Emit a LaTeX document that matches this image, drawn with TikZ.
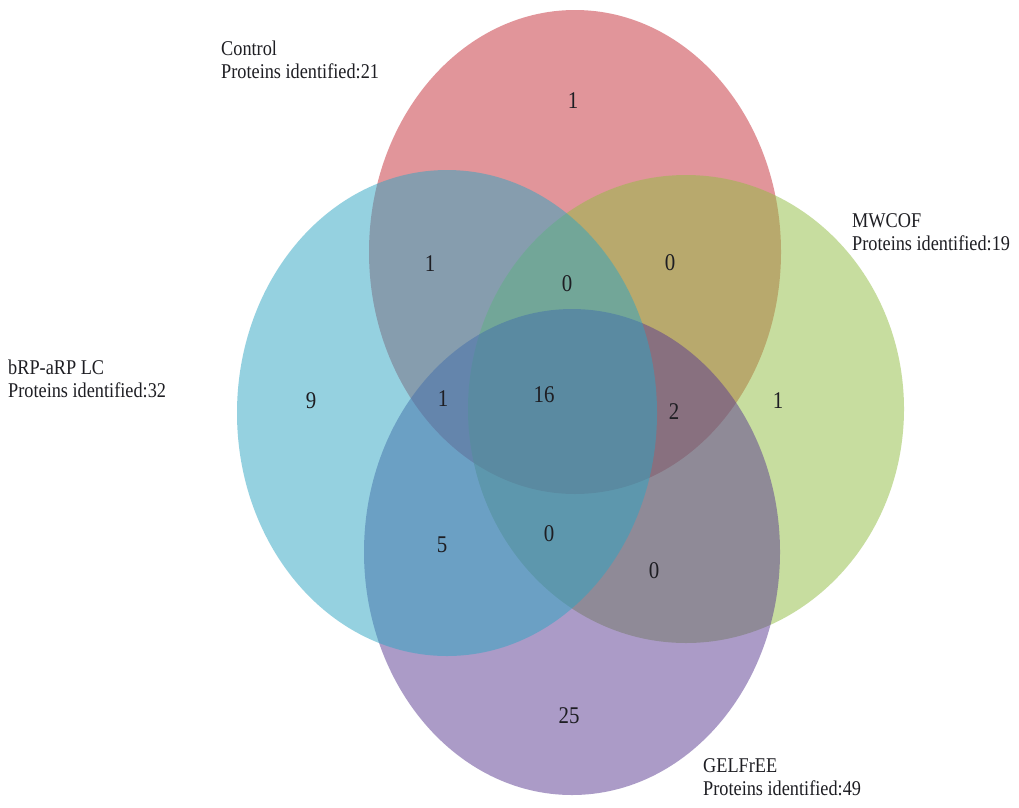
\documentclass[tikz,border=0pt]{standalone}
\usepackage{fontspec}
\setmainfont[FakeStretch=0.87]{Liberation Serif}
\definecolor{cRed}{RGB}{197,45,55}
\definecolor{cGreen}{RGB}{145,189,65}
\definecolor{cPurple}{RGB}{89,57,145}
\definecolor{cBlue}{RGB}{45,165,195}
\definecolor{numcol}{RGB}{30,30,35}
\tikzset{
  setfill/.style={fill=#1, fill opacity=0.5, draw=none},
  num/.style={font=\fontsize{24}{26}\selectfont, text=numcol, inner sep=0pt},
  lab/.style={font=\fontsize{21}{23}\selectfont, text=numcol, align=left, anchor=west, inner sep=0pt}
}
\begin{document}
\begin{tikzpicture}[x=1pt,y=-1pt]
\useasboundingbox (0,0) rectangle (1019,807);
\fill[white] (0,0) rectangle (1019,807);
% sets
\fill[setfill=cRed] (575,252) ellipse [x radius=206pt, y radius=242pt];
\fill[setfill=cGreen] (686,409) ellipse [x radius=218pt, y radius=234pt];
\fill[setfill=cPurple] (572,552) ellipse [x radius=208pt, y radius=243pt];
\fill[setfill=cBlue] (447,413) ellipse [x radius=210pt, y radius=243pt];
% region counts
\node[num] (n1) at (573,101) {1};
\node[num] (n2) at (430,264) {1};
\node[num] (n3) at (567,284) {0};
\node[num] (n4) at (670,263) {0};
\node[num] (n5) at (311,401) {9};
\node[num] (n6) at (443,399) {1};
\node[num] (n7) at (544,395) {16};
\node[num] (n8) at (674,412) {2};
\node[num] (n9) at (778,401) {1};
\node[num] (n10) at (442,545) {5};
\node[num] (n11) at (549,534) {0};
\node[num] (n12) at (654,571) {0};
\node[num] (n13) at (569,716) {25};
% set labels
\node[lab] (lc) at (221,60) {Control\\Proteins identified:21};
\node[lab] (lm) at (852,232) {MWCOF\\Proteins identified:19};
\node[lab] (lb) at (8,379) {bRP-aRP LC\\Proteins identified:32};
\node[lab] (lg) at (703,777) {GELFrEE\\Proteins identified:49};
\end{tikzpicture}
\end{document}
